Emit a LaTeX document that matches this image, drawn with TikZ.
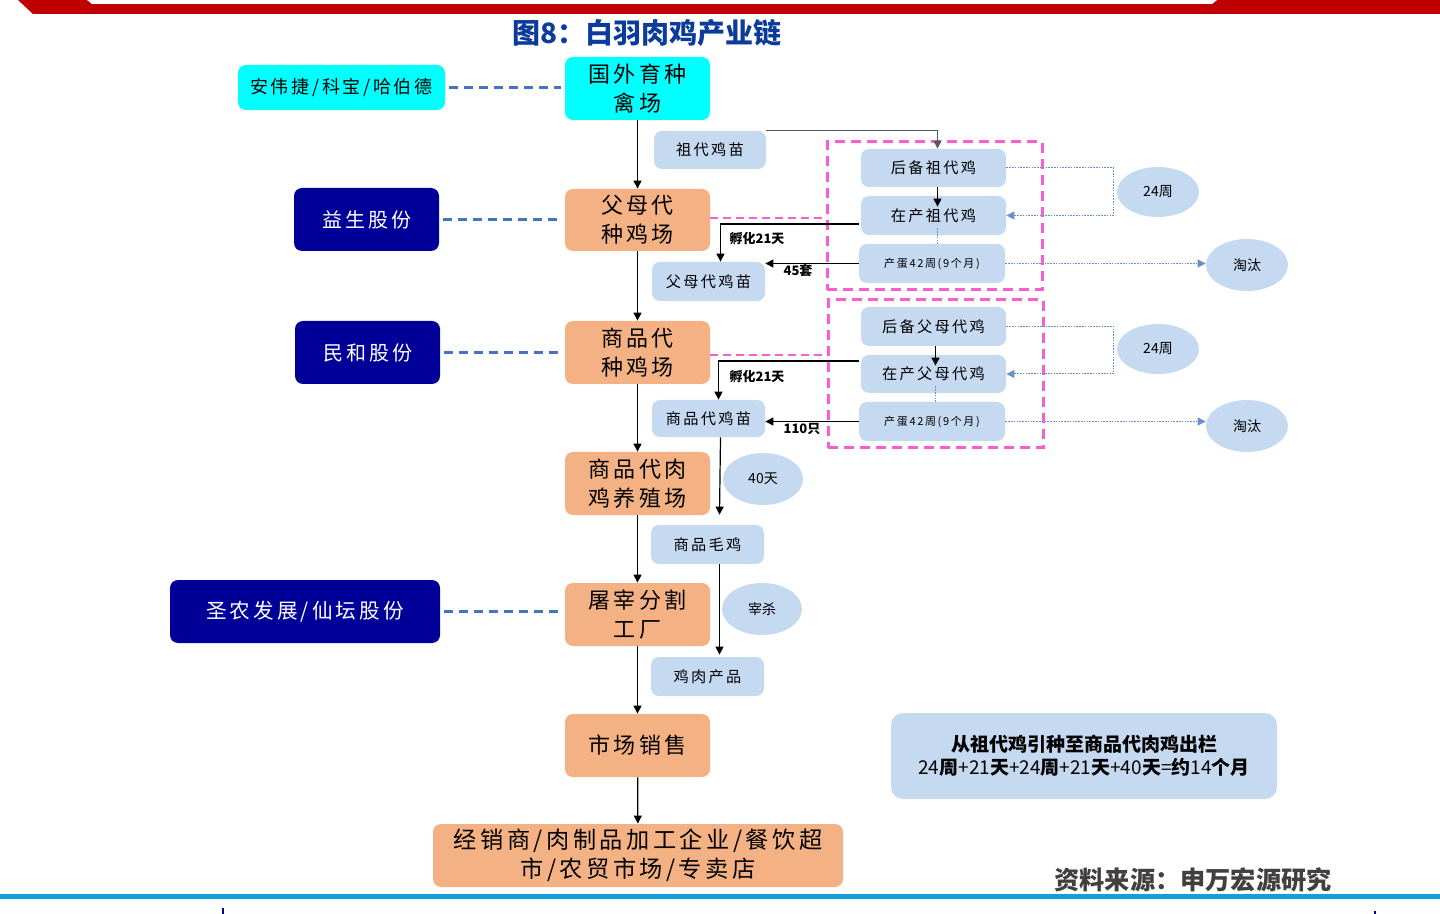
\documentclass[tikz,border=0pt]{standalone}
\usepackage{fontspec}
\setmainfont{Noto Sans CJK SC}
\newfontfamily\kai[LetterSpace=15]{Noto Sans CJK SC}
\usetikzlibrary{arrows.meta,calc,shapes.geometric}
\definecolor{orangebox}{HTML}{F4B183}
\definecolor{cyanbox}{HTML}{00FFFF}
\definecolor{navybox}{HTML}{000099}
\definecolor{lightblue}{HTML}{C5D9F1}
\definecolor{dashblue}{HTML}{4472C4}
\definecolor{pinkdash}{HTML}{F55FD0}
\definecolor{titleblue}{HTML}{0B3C9C}
\definecolor{bannerred}{HTML}{C00000}
\definecolor{linecyan}{HTML}{12A0DC}
\definecolor{srcgray}{HTML}{404040}
\definecolor{grayline}{HTML}{595959}
\newcommand{\rg}[1]{{\mdseries #1}}
\begin{document}
\begin{tikzpicture}[x=0.5pt,y=-0.5pt,
  sz/.style 2 args={minimum width=#1*0.5pt, minimum height=#2*0.5pt},
  base/.style={rounded corners=4pt, inner sep=0pt, align=center},
  mainbox/.style={base, fill=orangebox, font=\kai\fontsize{11}{14.5}\selectfont},
  navy/.style={base, fill=navybox, text=white, font=\kai\fontsize{10}{12}\selectfont},
  lb/.style={base, fill=lightblue, font=\kai\fontsize{7.6}{9}\selectfont},
  egg/.style={base, fill=lightblue, font=\kai\fontsize{5.5}{7}\selectfont},
  ell/.style={ellipse, fill=lightblue, inner sep=0pt, font=\fontsize{7}{8}\selectfont},
  pinkrect/.style={draw=pinkdash, line width=1.5pt, dash pattern=on 5pt off 3pt, inner sep=0pt},
  arr/.style={draw=black, line width=0.6pt, -{Triangle[length=4pt,width=4pt]}},
  garr/.style={draw=grayline, line width=0.6pt, -{Triangle[length=4pt,width=4pt]}},
  bdash/.style={draw=dashblue, line width=1.1pt, dash pattern=on 4.5pt off 3pt, shorten <=2pt, shorten >=2pt},
  pdash/.style={draw=pinkdash, line width=1pt, dash pattern=on 4pt off 2.5pt},
  dotl/.style={draw=dashblue!80, line width=0.5pt, dash pattern=on 0.8pt off 0.6pt},
  dotarr/.style={dotl, -{Triangle[length=4pt,width=4pt]}},
  lbl/.style={font=\bfseries\fontsize{6.5}{7}\selectfont, inner sep=0pt}
]
\useasboundingbox (0,0) rectangle (1440,914);
% banner
\fill[bannerred] (18,0) -- (1440,0) -- (1440,14) -- (33,14) -- cycle;
\fill[white] (87,0) -- (1217,0) -- (1212,4) -- (92,4) -- cycle;
\fill[linecyan] (0,894) rectangle (1440,899);
\draw[navybox, line width=0.6pt] (223,908) -- (223,914);
\draw[navybox, line width=0.6pt] (1375,911) -- (1375,914);

\node[font=\bfseries\fontsize{14}{16}\selectfont, text=titleblue] (title) at (647,33) {图8：白羽肉鸡产业链};
\node[font=\bfseries\fontsize{12.6}{15}\selectfont, text=srcgray] (src) at (1193,880) {资料来源：申万宏源研究};

% pink groups
\node[pinkrect, sz={215}{148}] (g1) at (934.5,216) {};
\node[pinkrect, sz={215}{148}] (g2) at (935.5,374) {};

% main column
\node[mainbox, fill=cyanbox, sz={145}{63}] (top) at (637.5,88.5) {国外育种\\禽场};
\node[mainbox, sz={145}{62}] (fmd) at (637.5,220) {父母代\\种鸡场};
\node[mainbox, sz={145}{63}] (spd) at (637.5,352.5) {商品代\\种鸡场};
\node[mainbox, sz={145}{63}] (rj) at (637.5,483.5) {商品代肉\\鸡养殖场};
\node[mainbox, sz={145}{63}] (tz) at (637.5,614.5) {屠宰分割\\工厂};
\node[mainbox, sz={145}{63}] (sc) at (637.5,745.5) {市场销售};
\node[mainbox, sz={410}{63}, font=\kai\fontsize{11.6}{14.5}\selectfont] (jx) at (638,855.5) {经销商/肉制品加工企业/餐饮超\\市/农贸市场/专卖店};

% left companies
\node[base, fill=cyanbox, sz={207}{45}, font=\kai\fontsize{9}{10}\selectfont] (awj) at (341.5,87.5) {安伟捷/科宝/哈伯德};
\node[navy, sz={145}{63}] (ys) at (366.5,219.5) {益生股份};
\node[navy, sz={145}{63}] (mh) at (367.5,352.5) {民和股份};
\node[navy, sz={270}{63}, font=\kai\fontsize{10.3}{12}\selectfont] (sn) at (305,611.5) {圣农发展/仙坛股份};

% light blue boxes
\node[lb, sz={112}{38}] (zd) at (710,150) {祖代鸡苗};
\node[lb, sz={113}{39}] (fmm) at (708.5,281.5) {父母代鸡苗};
\node[lb, sz={113}{37}] (spm) at (708.5,418.5) {商品代鸡苗};
\node[lb, sz={113}{39}] (mj) at (707.5,544.5) {商品毛鸡};
\node[lb, sz={113}{39}] (jr) at (707.5,676.5) {鸡肉产品};

\node[lb, sz={145}{38}] (hb1) at (933.5,168) {后备祖代鸡};
\node[lb, sz={145}{39}] (zc1) at (933.5,215.5) {在产祖代鸡};
\node[egg, sz={146}{39}] (cd1) at (932,263.5) {产蛋42周(9个月)};
\node[lb, sz={145}{39}] (hb2) at (933.5,326.5) {后备父母代鸡};
\node[lb, sz={145}{38}] (zc2) at (933.5,374) {在产父母代鸡};
\node[egg, sz={146}{39}] (cd2) at (932,421.5) {产蛋42周(9个月)};

% ellipses
\node[ell, sz={82}{50}] (w1) at (1158,192) {24周};
\node[ell, sz={82}{52}] (tt1) at (1247,265) {淘汰};
\node[ell, sz={82}{50}] (w2) at (1158,349) {24周};
\node[ell, sz={82}{52}] (tt2) at (1247,426) {淘汰};
\node[ell, sz={80}{52}] (d40) at (763,479) {40天};
\node[ell, sz={80}{52}] (zs) at (762,609) {宰杀};

% summary
\node[base, rounded corners=6pt, fill=lightblue, sz={386}{86}, font=\bfseries\fontsize{9.5}{11.5}\selectfont] (sum) at (1084,756) {从祖代鸡引种至商品代肉鸡出栏\\\rg{24}周\rg{+21}天\rg{+24}周\rg{+21}天\rg{+40}天\rg{=}约\rg{14}个月};

% main arrows
\draw[arr] (top) -- (fmd);
\draw[arr] (fmd) -- (spd);
\draw[arr] (spd) -- (rj);
\draw[arr] (rj) -- (tz);
\draw[arr] (tz) -- (sc);
\draw[arr] (sc) -- (jx);

% company dashed links
\draw[bdash] (awj.east) -- (top.west |- awj.east);
\draw[bdash] (ys.east) -- (fmd.west |- ys.east);
\draw[bdash] (mh.east) -- (spd.west |- mh.east);
\draw[bdash] (sn.east) -- (tz.west |- sn.east);

% pink links
\draw[pdash] ($(fmd.east)+(0,-2)$) -- ($(fmd.east -| g1.west)+(0,-2)$);
\draw[pdash] ($(spd.east)+(0,3)$) -- ($(spd.east -| g2.west)+(0,3)$);

% upper group
\draw[garr] (zd.north east) -| ($(hb1.north)+(4,0)$);
\draw[arr] ($(hb1.south)+(4,0)$) -- ($(zc1.north)+(4,11)$);
\draw[dotl] ($(zc1.south)+(4,-7)$) -- ($(cd1.north)+(5.5,0)$);
\draw[arr] ($(zc1.west)+(-2,8.5)$) -| ($(fmm.north)+(12,0)$);
\node[lbl] (l1) at (757,239) {孵化21天};
\draw[arr] (cd1.west) -- (cd1.west -| fmm.east);
\node[lbl] (l2) at (798,271) {45套};
\draw[dotarr] (hb1.east) -- ++(107,0) |- (zc1.east);
\draw[dotarr] (cd1.east) -- (cd1.east -| tt1.west);

% lower group
\draw[arr] ($(hb2.south)+(2,0)$) -- ($(zc2.north)+(2,11)$);
\draw[dotl] ($(zc2.south)+(2,-7)$) -- ($(cd2.north)+(3.5,0)$);
\draw[arr] ($(zc2.west)+(-2,-13)$) -| ($(spm.north)+(10,0)$);
\node[lbl] (l3) at (757,377) {孵化21天};
\draw[arr] (cd2.west) -- (cd2.west -| spm.east);
\node[lbl] (l4) at (802,429) {110只};
\draw[dotarr] (hb2.east) -- ++(107,0) |- (zc2.east);
\draw[dotarr] (cd2.east) -- (cd2.east -| tt2.west);

% product chain
\draw[arr] ($(spm.south)+(12,0)$) -- ($(mj.north)+(12,-10)$);
\draw[arr] ($(mj.south)+(12,0)$) -- ($(jr.north)+(12,-2)$);
\end{tikzpicture}
\end{document}
